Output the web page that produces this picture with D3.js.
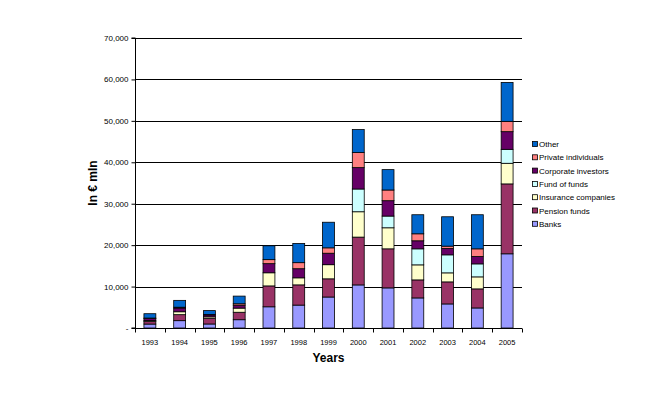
<!DOCTYPE html>
<html>
<head>
<meta charset="utf-8">
<script src="https://cdn.jsdelivr.net/npm/d3@7/dist/d3.min.js"></script>
<style>
  html, body { margin: 0; padding: 0; background: #fff; }
  svg { display: block; font-family: "Liberation Sans", Arial, sans-serif; }
</style>
</head>
<body>
<svg id="chart" width="672" height="394"></svg>
<script>
const years = ["1993","1994","1995","1996","1997","1998","1999","2000","2001","2002","2003","2004","2005"];
const banks       = [950, 1770, 970, 2000, 5120, 5530, 7480, 10400, 9680, 7260, 5810, 4840, 17910];
const pension     = [600, 1450, 1380, 1800, 5040, 4880, 4390, 11540, 9430, 4350, 5320, 4600, 16870];
const insurance   = [250, 700, 350, 1000, 3170, 1700, 3410, 6120, 5080, 3630, 2180, 2900, 4980];
const fundOfFunds = [0, 0, 0, 0, 0, 0, 0, 5490, 2830, 3870, 4350, 3140, 3370];
const corporate   = [500, 900, 450, 700, 2200, 2200, 2770, 5160, 3710, 1940, 1530, 1780, 4260];
const privateInd  = [100, 200, 100, 350, 970, 1460, 1300, 3630, 2580, 1690, 570, 1850, 2490];
const other       = [1050, 1650, 950, 1850, 3340, 4640, 6180, 5560, 4920, 4600, 7090, 8230, 9400];

const seriesNames = ["Banks","Pension funds","Insurance companies","Fund of funds","Corporate investors","Private individuals","Other"];
const seriesValues = [banks, pension, insurance, fundOfFunds, corporate, privateInd, other];
const seriesColors = ["#9999FF","#993366","#FFFFCC","#CCFFFF","#660066","#FF8080","#0066CC"];
const yTicks = [0, 10000, 20000, 30000, 40000, 50000, 60000, 70000];

(function () {
const table = years.map((yr, i) => {
  const row = { year: yr };
  seriesNames.forEach((s, k) => row[s] = seriesValues[k][i]);
  return row;
});

const svg = d3.select("#chart");
const pLeft = 135, pRight = 522, pTop = 38, pBottom = 328;

const x = d3.scaleBand().domain(years).range([pLeft, pRight]).paddingInner(0.6).paddingOuter(0.3);
const y = d3.scaleLinear().domain([0, 70000]).range([pBottom, pTop]);

// gridlines
svg.append("g").selectAll("line").data(yTicks.filter(d => d > 0)).join("line")
  .attr("x1", pLeft).attr("x2", pRight)
  .attr("y1", d => Math.round(y(d)) + 0.5).attr("y2", d => Math.round(y(d)) + 0.5)
  .attr("stroke", "#000").attr("stroke-width", 1);

// bars
const stack = d3.stack().keys(seriesNames)(table);
svg.append("g").selectAll("g").data(stack).join("g")
  .attr("fill", (d, i) => seriesColors[i])
  .selectAll("rect").data(d => d.filter(p => p[1] - p[0] > 0)).join("rect")
  .attr("x", d => x(d.data.year))
  .attr("width", x.bandwidth())
  .attr("y", d => y(d[1]))
  .attr("height", d => y(d[0]) - y(d[1]))
  .attr("stroke", "#000").attr("stroke-width", 0.8);

// y axis
const yAxis = d3.axisLeft(y).tickValues(yTicks).tickSize(4).tickPadding(3)
  .tickFormat(d => d === 0 ? "-" : d3.format(",")(d));
const gy = svg.append("g").attr("transform", `translate(${pLeft + 0.5},0)`).call(yAxis);
gy.select(".domain").attr("d", `M-4,${y(70000)}H0V${pBottom}H-4`).attr("stroke", "#000");
gy.selectAll(".tick line").attr("stroke", "#000");
gy.selectAll(".tick text").attr("font-size", "8px").attr("fill", "#000")
  .attr("font-family", "'Liberation Sans', Arial, sans-serif");

// x axis
const gx = svg.append("g").attr("transform", `translate(0,${pBottom + 0.5})`);
gx.append("line").attr("x1", pLeft).attr("x2", pRight).attr("stroke", "#000");
const bounds = years.map((yr, i) => pLeft + i * x.step()).concat([pRight]);
gx.selectAll("line.tk").data(bounds).join("line").attr("class", "tk")
  .attr("x1", d => Math.round(d) + 0.5).attr("x2", d => Math.round(d) + 0.5)
  .attr("y1", 0).attr("y2", 4).attr("stroke", "#000");
gx.selectAll("text").data(years).join("text")
  .attr("x", d => x(d) + x.bandwidth() / 2).attr("y", 16)
  .attr("text-anchor", "middle").attr("font-size", "7.5px").attr("fill", "#000")
  .text(d => d);

// axis titles
svg.append("text").attr("x", (pLeft + pRight) / 2).attr("y", 362)
  .attr("text-anchor", "middle").attr("font-size", "12px").attr("font-weight", "bold")
  .text("Years");
svg.append("text").attr("transform", `translate(97,${(pTop + pBottom) / 2}) rotate(-90)`)
  .attr("text-anchor", "middle").attr("font-size", "12px").attr("font-weight", "bold")
  .text("In € mln");

// legend
const legendOrder = seriesNames.map((s, i) => ({ name: s, color: seriesColors[i] })).reverse();
const lg = svg.append("g").selectAll("g").data(legendOrder).join("g")
  .attr("transform", (d, i) => `translate(532,${144 + i * 13.3})`);
lg.append("rect").attr("x", 0.5).attr("y", -2.5).attr("width", 5).attr("height", 5)
  .attr("fill", d => d.color).attr("stroke", "#000").attr("stroke-width", 0.8);
lg.append("text").attr("x", 7).attr("y", 3).attr("font-size", "8px").attr("fill", "#000")
  .text(d => d.name);
})();
</script>
</body>
</html>
